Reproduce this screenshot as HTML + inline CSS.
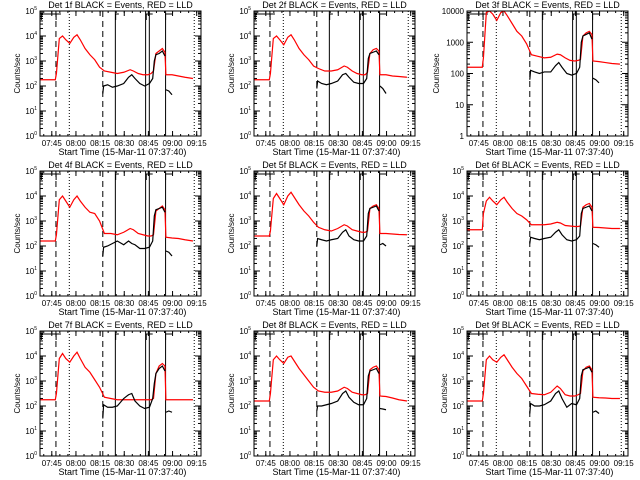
<!DOCTYPE html>
<html><head><meta charset="utf-8">
<style>
html,body{margin:0;padding:0;background:#fff;}
svg{display:block;font-family:"Liberation Sans",sans-serif;}
</style></head>
<body>
<svg id="chart" width="640" height="480" viewBox="0 0 640 480" xmlns="http://www.w3.org/2000/svg">
<rect width="640" height="480" fill="#fff"/>
</svg>
<script>
// ---- data ----
const detLabels = ["1f","2f","3f","4f","5f","6f","7f","8f","9f"];
const tickLabels = ["07:45","08:00","08:15","08:30","08:45","09:00","09:15"];
const tickMinutes = [7.33,22.33,37.33,52.33,67.33,82.33,97.33];
const redTimes = [0,9.5,10.2,12,14,16,18.5,21,23,25,28,31,34,37,40,44,48,52,56,58,61,64,67,69,70.5,72,74,76,77.6,78.2,82,86,90,95];
const blackTimes = [39,39.5,42,45,48,52,55,57,59,62,65,68,70,71,72,74,76,77.6];
const blackTailTimes = [78.2,80,82];
const red1 = [2.25,2.25,2.5,3.9,4.0,3.85,3.7,3.95,4.05,3.85,3.5,3.25,3.05,2.75,2.6,2.55,2.5,2.55,2.65,2.6,2.5,2.45,2.45,2.5,2.6,3.3,3.4,3.5,3.35,2.45,2.45,2.4,2.35,2.3];
const red2 = [2.25,2.25,2.5,3.9,4.0,3.85,3.65,3.95,4.05,3.85,3.5,3.25,3.05,2.8,2.7,2.6,2.6,2.65,2.8,2.75,2.6,2.5,2.45,2.45,2.55,3.3,3.45,3.5,3.4,2.45,2.45,2.4,2.38,2.35];
const red3 = [2.2,2.2,2.5,3.95,4.05,3.9,3.7,3.95,4.05,3.85,3.6,3.35,3.2,2.95,2.6,2.55,2.5,2.52,2.62,2.6,2.5,2.42,2.4,2.42,2.45,3.2,3.3,3.35,3.25,2.4,2.38,2.35,2.32,2.3];
const red4 = [2.2,2.2,2.45,3.85,4.0,3.8,3.55,3.85,4.0,3.8,3.55,3.35,3.3,3.0,2.5,2.5,2.45,2.55,2.7,2.65,2.5,2.45,2.4,2.4,2.45,3.4,3.5,3.6,3.45,2.35,2.32,2.3,2.25,2.2];
const red5 = [2.4,2.4,2.6,3.9,4.1,3.9,3.65,4.0,4.15,3.95,3.65,3.4,3.2,2.95,2.75,2.65,2.6,2.7,2.85,2.8,2.65,2.6,2.55,2.55,2.6,3.5,3.6,3.65,3.5,2.5,2.5,2.48,2.46,2.45];
const red6 = [2.65,2.65,3.3,3.8,3.95,3.8,3.65,3.85,3.95,3.75,3.5,3.3,3.2,3.05,2.85,2.85,2.85,2.88,2.95,2.92,2.82,2.8,2.78,2.78,2.8,3.55,3.65,3.7,3.55,2.75,2.74,2.72,2.7,2.7];
const red7 = [2.25,2.25,2.5,3.9,4.1,3.9,3.75,4.0,4.15,3.9,3.55,3.35,3.05,2.75,2.35,2.3,2.25,2.25,2.25,2.25,2.25,2.25,2.25,2.25,2.3,3.3,3.6,3.7,3.6,2.25,2.25,2.25,2.25,2.25];
const red8 = [2.2,2.2,2.5,3.85,4.0,3.85,3.7,3.95,4.0,3.8,3.5,3.25,3.0,2.75,2.6,2.55,2.55,2.6,2.75,2.7,2.55,2.5,2.45,2.45,2.5,3.45,3.55,3.6,3.45,2.4,2.38,2.32,2.25,2.2];
const red9 = [2.2,2.2,2.5,3.85,4.0,3.85,3.75,3.95,4.05,3.85,3.55,3.3,3.1,2.8,2.5,2.47,2.45,2.55,2.8,2.7,2.45,2.4,2.4,2.45,2.5,3.4,3.55,3.6,3.45,2.35,2.33,2.32,2.3,2.3];
const black1 = [1.7,2.0,2.05,1.95,2.0,2.1,2.35,2.45,2.3,2.1,2.0,2.1,2.3,3.0,3.25,3.3,3.4,3.2];
const black2 = [1.9,2.2,2.1,2.05,2.1,2.2,2.45,2.5,2.35,2.15,2.1,2.1,2.3,3.1,3.3,3.35,3.4,3.25];
const black3 = [1.8,2.1,2.05,2.0,2.05,2.05,2.25,2.35,2.2,2.0,1.95,2.0,2.2,3.0,3.2,3.25,3.3,3.1];
const black4 = [1.6,1.95,2.0,2.1,2.2,2.05,2.2,2.1,2.05,1.9,1.9,1.95,2.2,3.2,3.45,3.5,3.55,3.35];
const black5 = [2.0,2.3,2.25,2.2,2.25,2.3,2.55,2.65,2.4,2.25,2.2,2.2,2.4,3.3,3.5,3.55,3.6,3.4];
const black6 = [2.1,2.35,2.3,2.25,2.3,2.35,2.55,2.65,2.45,2.25,2.2,2.25,2.4,3.3,3.5,3.55,3.6,3.4];
const black7 = [1.5,2.05,1.95,1.95,2.0,2.3,2.45,2.5,2.2,2.0,1.9,1.95,2.3,2.9,3.3,3.5,3.6,3.4];
const black8 = [1.8,2.0,2.0,2.05,2.1,2.2,2.5,2.6,2.35,2.15,2.05,2.05,2.3,3.2,3.4,3.45,3.5,3.3];
const black9 = [1.7,2.1,2.0,2.0,2.05,2.2,2.5,2.6,2.3,1.95,2.1,2.05,2.3,3.2,3.45,3.5,3.55,3.35];
const blackTail = [[1.85,1.8,1.65],[2.0,1.9,1.7],[1.85,1.8,1.7],[1.8,1.75,1.6],[2.05,2.1,2.0],[2.1,2.05,1.95],[1.75,1.8,1.75],[1.9,1.88,1.85],[1.75,1.8,1.7]];
const redSeries = [red1,red2,red3,red4,red5,red6,red7,red8,red9];
const blackSeries = [black1,black2,black3,black4,black5,black6,black7,black8,black9];
const dashedLines = [9.9,39];
const dottedLines = [18.2,95.8];
const solidLines = [46.8,65.6,67.9,78];

// ---- layout ----
const svg = document.getElementById('chart');
const NS = 'http://www.w3.org/2000/svg';
const colX = [40,254,467], rowY = [11,171,331], W = 161, H = 125;
function mk(tag, attrs, parent){
  const e = document.createElementNS(NS, tag);
  for (const k in attrs) e.setAttribute(k, attrs[k]);
  (parent||svg).appendChild(e);
  return e;
}

for (let p = 0; p < 9; p++) {
  const x0 = colX[p%3], y0 = rowY[Math.floor(p/3)];
  const dec = p===2 ? 4 : 5;
  const xs = t => x0 + t/100*W;
  const ys = v => y0 + H - Math.min(v, dec)/dec*H;
  const g = mk('g', {});
  
  

  // clip
  const cp = mk('clipPath', {id:'c'+p}, g);
  mk('rect', {x:x0, y:y0, width:W, height:H}, cp);

  // title
  const tt = mk('text', {x:x0+W/2, y:y0-3, 'font-size':9, 'text-anchor':'middle', fill:'#000'}, g);
  tt.textContent = 'Det ' + detLabels[p] + ' BLACK = Events, RED = LLD';
  
  

  // x ticks and labels
  tickMinutes.forEach((m, i) => {
    const x = xs(m);
    mk('line', {x1:x, x2:x, y1:y0+H, y2:y0+H-5, stroke:'#000', 'stroke-width':1}, g);
    mk('line', {x1:x, x2:x, y1:y0, y2:y0+5, stroke:'#000', 'stroke-width':1}, g);
    const tl = mk('text', {x:x, y:y0+H+10, 'font-size':8, 'text-anchor':'middle'}, g);
    tl.textContent = tickLabels[i];
    
    
  });
  for (let m = 2.33; m < 100; m += 5) {
    const x = xs(m);
    mk('line', {x1:x, x2:x, y1:y0+H, y2:y0+H-2, stroke:'#000'}, g);
    mk('line', {x1:x, x2:x, y1:y0, y2:y0+2, stroke:'#000'}, g);
  }
  const xt = mk('text', {x:x0+W/2+2, y:y0+H+19, 'font-size':9, 'text-anchor':'middle'}, g);
  xt.textContent = 'Start Time (15-Mar-11 07:37:40)';
  
  

  // y ticks
  for (let d = 0; d <= dec; d++) {
    const y = ys(d);
    mk('line', {x1:x0, x2:x0+6, y1:y, y2:y, stroke:'#000'}, g);
    mk('line', {x1:x0+W-6, x2:x0+W, y1:y, y2:y, stroke:'#000'}, g);
    const yl = mk('text', {x:x0-3, y:y+3, 'font-size':8, 'text-anchor':'end'}, g);
    if (p===2) { yl.textContent = String(Math.pow(10,d)); }
    else {
      yl.textContent = '10';
      const s = mk('tspan', {dy:-4, 'font-size':5}, yl); s.textContent = d;
    }
    
    
    if (d < dec) for (let k = 2; k < 10; k++) {
      const ym = ys(d + Math.log10(k));
      mk('line', {x1:x0, x2:x0+3, y1:ym, y2:ym, stroke:'#000'}, g);
      mk('line', {x1:x0+W-3, x2:x0+W, y1:ym, y2:ym, stroke:'#000'}, g);
    }
  }
  const yt = mk('text', {x:0, y:0, 'font-size':8, 'text-anchor':'middle', transform:`translate(${x0-(p===2?28:20)},${y0+H/2}) rotate(-90)`}, g);
  yt.textContent = 'Counts/sec';
  
  

  // vertical markers
  dashedLines.forEach(t => mk('line', {x1:xs(t), x2:xs(t), y1:y0, y2:y0+H, stroke:'#000', 'stroke-dasharray':'6,4'}, g));
  dottedLines.forEach(t => mk('line', {x1:xs(t), x2:xs(t), y1:y0, y2:y0+H, stroke:'#000', 'stroke-dasharray':'1,2'}, g));
  solidLines.forEach(t => mk('line', {x1:xs(t), x2:xs(t), y1:y0, y2:y0+H, stroke:'#000'}, g));
  // top bracket markers
  [[0.8,10],[10,13],[47,49],[66,70],[78,82]].forEach(b => {
    mk('polyline', {points:`${xs(b[0])},${y0+9} ${xs(b[0])},${y0+3} ${xs(b[1])},${y0+3}`, fill:'none', stroke:'#000'}, g);
  });

  // series
  const red = redSeries[p];
  const rp = mk('polyline', {points: redTimes.map((t,i)=>xs(t)+','+ys(red[i])).join(' '), fill:'none', stroke:'#ff0000', 'stroke-width':1.2, 'clip-path':`url(#c${p})`}, g);
  
  
  const blk = blackSeries[p];
  const bp = mk('polyline', {points: blackTimes.map((t,i)=>xs(t)+','+ys(blk[i])).join(' '), fill:'none', stroke:'#000', 'stroke-width':1.2}, g);
  
  
  const tail = blackTail[p];
  const bp2 = mk('polyline', {points: blackTailTimes.map((t,i)=>xs(t)+','+ys(tail[i])).join(' '), fill:'none', stroke:'#000', 'stroke-width':1.2}, g);
  
  

  // box
  const box = mk('rect', {x:x0, y:y0, width:W, height:H, fill:'none', stroke:'#000', 'stroke-width':1}, g);
  
  
}
</script>
</body></html>
